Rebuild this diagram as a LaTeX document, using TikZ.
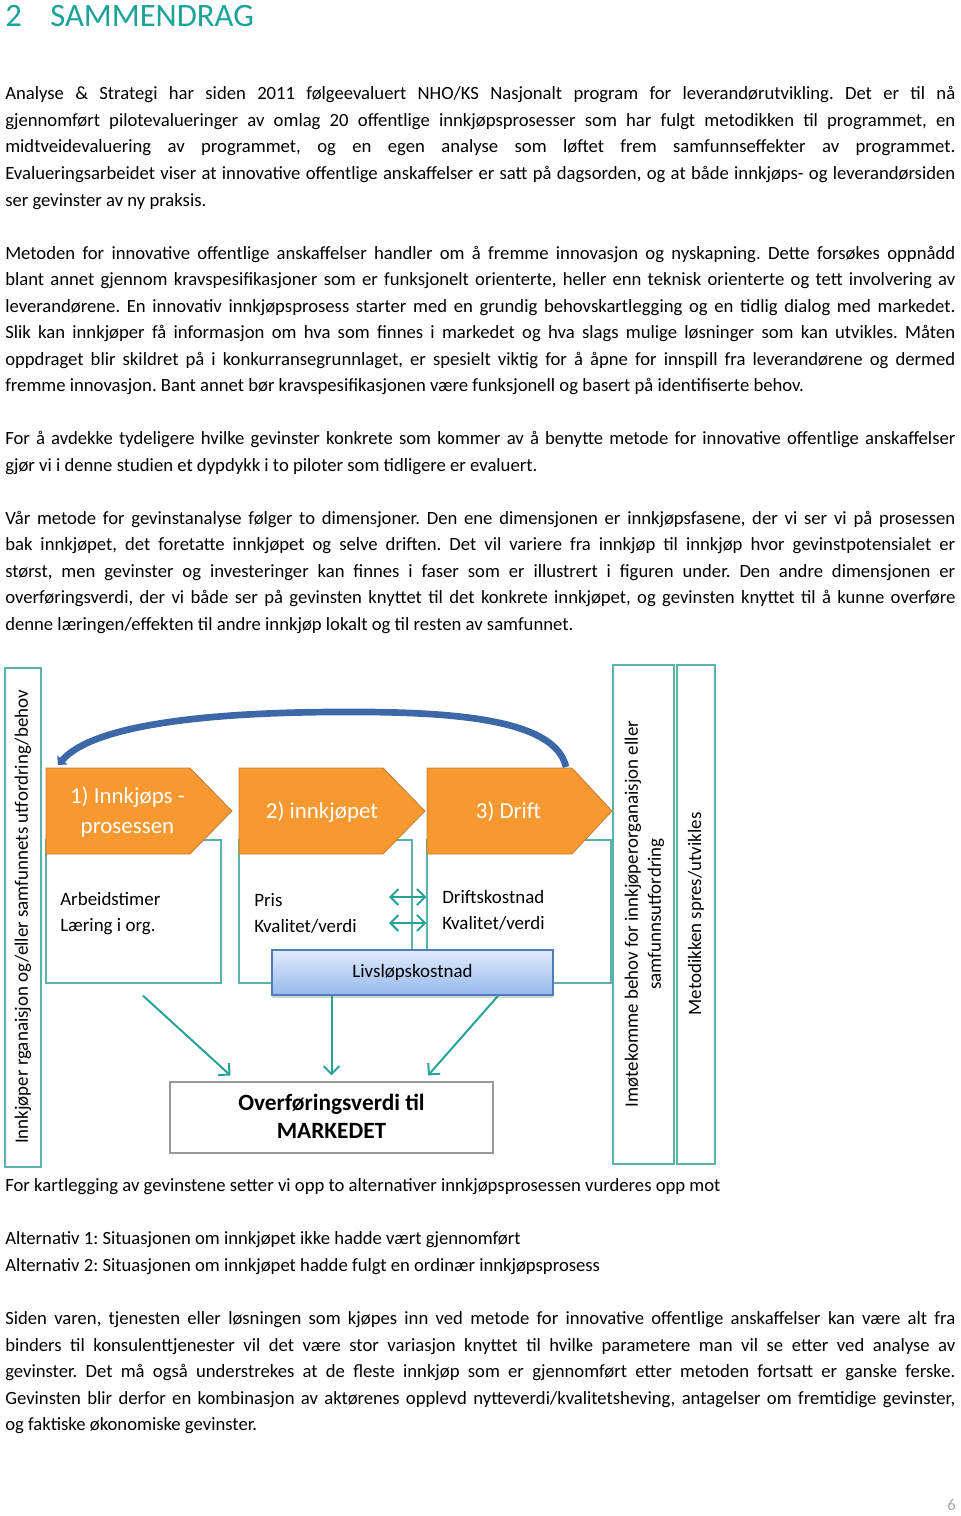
\documentclass[tikz,border=0pt]{standalone}
\usepackage{fontspec}
\setmainfont{Carlito}
\usetikzlibrary{arrows.meta,calc,fit,shadows}
\frenchspacing

\definecolor{headteal}{RGB}{26,163,152}
\definecolor{lineteal}{RGB}{38,163,150}
\definecolor{boxteal}{RGB}{90,178,168}
\definecolor{phaseorange}{RGB}{247,152,48}
\definecolor{phaseedge}{RGB}{196,124,52}
\definecolor{arcblue}{RGB}{60,104,168}
\definecolor{lcctop}{RGB}{224,235,252}
\definecolor{lccbot}{RGB}{150,185,236}
\definecolor{lccedge}{RGB}{79,124,186}

\newcommand{\jline}[1]{\makebox[712.5pt][s]{#1}}

\tikzset{
  txt/.style={anchor=base west, inner sep=0pt, font=\fontsize{14}{17}\selectfont},
  lbl/.style={anchor=base west, inner sep=0pt, font=\fontsize{14.2}{17}\selectfont},
  rot/.style={rotate=90, inner sep=0pt, align=center, font=\fontsize{14.2}{17.25}\selectfont},
  box/.style={draw=boxteal, line width=1pt, inner sep=0pt},
  phase/.style={fill=phaseorange, draw=phaseedge, line width=0.6pt},
  phasetxt/.style={text=white, align=center, inner sep=0pt, font=\fontsize{17.2}{22.5}\selectfont},
  flow/.style={draw=lineteal, line width=1.5pt, -{Straight Barb[length=6pt,width=12pt]}},
  dflow/.style={draw=lineteal, line width=1.5pt, {Straight Barb[length=6pt,width=12pt]}-{Straight Barb[length=6pt,width=12pt]}},
  bluearc/.style={draw=arcblue, line width=5pt, -{Triangle[length=5pt,width=10pt]}},
}

\begin{document}
\begin{tikzpicture}[x=0.75pt,y=-0.75pt]
  \useasboundingbox (0,0) rectangle (960,1516);

  \node[anchor=base west, inner sep=0pt, text=headteal, font=\fontsize{24.5}{28}\selectfont] (num) at (5,27) {2};
  \node[anchor=base west, inner sep=0pt, text=headteal, font=\fontsize{24.5}{28}\selectfont] (title) at (50,27) {SAMMENDRAG};

  \node[txt] (l1) at (5,100) {\jline{Analyse \& Strategi har siden 2011 følgeevaluert NHO/KS Nasjonalt program for leverandørutvikling. Det er til nå}};
  \node[txt] (l2) at (5,126.5) {\jline{gjennomført pilotevalueringer av omlag 20 offentlige innkjøpsprosesser som har fulgt metodikken til programmet, en}};
  \node[txt] (l3) at (5,153) {\jline{midtveidevaluering av programmet, og en egen analyse som løftet frem samfunnseffekter av programmet.}};
  \node[txt] (l4) at (5,179.5) {\jline{Evalueringsarbeidet viser at innovative offentlige anskaffelser er satt på dagsorden, og at både innkjøps- og leverandørsiden}};
  \node[txt] (l5) at (5,206) {ser gevinster av ny praksis.};

  \node[txt] (l6) at (5,259) {\jline{Metoden for innovative offentlige anskaffelser handler om å fremme innovasjon og nyskapning. Dette forsøkes oppnådd}};
  \node[txt] (l7) at (5,285.5) {\jline{blant annet gjennom kravspesifikasjoner som er funksjonelt orienterte, heller enn teknisk orienterte og tett involvering av}};
  \node[txt] (l8) at (5,312) {\jline{leverandørene. En innovativ innkjøpsprosess starter med en grundig behovskartlegging og en tidlig dialog med markedet.}};
  \node[txt] (l9) at (5,338.5) {\jline{Slik kan innkjøper få informasjon om hva som finnes i markedet og hva slags mulige løsninger som kan utvikles. Måten}};
  \node[txt] (l10) at (5,365) {\jline{oppdraget blir skildret på i konkurransegrunnlaget, er spesielt viktig for å åpne for innspill fra leverandørene og dermed}};
  \node[txt] (l11) at (5,391.5) {fremme innovasjon. Bant annet bør kravspesifikasjonen være funksjonell og basert på identifiserte behov.};

  \node[txt] (l12) at (5,444.5) {\jline{For å avdekke tydeligere hvilke gevinster konkrete som kommer av å benytte metode for innovative offentlige anskaffelser}};
  \node[txt] (l13) at (5,471) {gjør vi i denne studien et dypdykk i to piloter som tidligere er evaluert.};

  \node[txt] (l14) at (5,524) {\jline{Vår metode for gevinstanalyse følger to dimensjoner. Den ene dimensjonen er innkjøpsfasene, der vi ser vi på prosessen}};
  \node[txt] (l15) at (5,550.5) {\jline{bak innkjøpet, det foretatte innkjøpet og selve driften. Det vil variere fra innkjøp til innkjøp hvor gevinstpotensialet er}};
  \node[txt] (l16) at (5,577) {\jline{størst, men gevinster og investeringer kan finnes i faser som er illustrert i figuren under. Den andre dimensjonen er}};
  \node[txt] (l17) at (5,603.5) {\jline{overføringsverdi, der vi både ser på gevinsten knyttet til det konkrete innkjøpet, og gevinsten knyttet til å kunne overføre}};
  \node[txt] (l18) at (5,630) {denne læringen/effekten til andre innkjøp lokalt og til resten av samfunnet.};

  % figur
  \node[box, fit={(5,668) (41,1167)}] (need) {};
  \node[rot] (needtxt) at (23,917) {Innkjøper rganaisjon og/eller samfunnets utfordring/behov};
  \node[box, fit={(613,665) (674,1164)}] (meet) {};
  \node[rot] (meettxt) at (644.5,914) {Imøtekomme behov for innkjøperorganaisjon eller\\samfunnsutfordring};
  \node[box, fit={(677,665) (715,1164)}] (spread) {};
  \node[rot] (spreadtxt) at (696,914) {Metodikken spres/utvikles};

  \node[box, fit={(46,840) (221,983)}] (box1) {};
  \node[box, fit={(239,840) (412,983)}] (box2) {};
  \node[box, fit={(427,840) (611,983)}] (box3) {};

  \draw[phase] (46,768) -- (190,768) -- (232,811) -- (190,854) -- (46,854) -- cycle;
  \draw[phase] (239,768) -- (383,768) -- (425,811) -- (383,854) -- (239,854) -- cycle;
  \draw[phase] (427,768) -- (572,768) -- (612,811) -- (572,854) -- (427,854) -- cycle;
  \node[phasetxt] (ph1) at (127.5,812) {1) Innkjøps -\\prosessen};
  \node[phasetxt] (ph2) at (322,812) {2) innkjøpet};
  \node[phasetxt] (ph3) at (508.5,812) {3) Drift};

  \coordinate (arcstart) at (566,767);
  \coordinate (arctop) at (330,712);
  \coordinate (arcend) at (58,765);
  \draw[bluearc] (arcstart) .. controls (555,718) and (450,711) .. (arctop) .. controls (200,713) and (92,726) .. (arcend);

  \node[lbl] (hours) at (60,905) {Arbeidstimer};
  \node[lbl] (learn) at (60,931) {Læring i org.};
  \node[lbl] (price) at (254,906) {Pris};
  \node[lbl] (qual1) at (254,932) {Kvalitet/verdi};
  \node[lbl] (opcost) at (442,903) {Driftskostnad};
  \node[lbl] (qual2) at (442,929) {Kvalitet/verdi};

  \coordinate (d1) at (389,897);
  \coordinate (d2) at (389,923);
  \draw[dflow] (d1) -- (box3.west |- d1);
  \draw[dflow] (d2) -- (box3.west |- d2);

  \node[box, draw=lccedge, line width=1.3pt, top color=lcctop, bottom color=lccbot,
        drop shadow={shadow xshift=0pt, shadow yshift=-2.5pt, opacity=0.35},
        fit={(272,950) (553,995)}] (lcc) {};
  \node[inner sep=0pt, font=\fontsize{14.2}{17}\selectfont] (lcctxt) at (lcc.center) {Livsløpskostnad};

  \node[draw=gray!80, line width=0.8pt, inner sep=0pt, fit={(170,1082) (493,1153)}] (ovf) {};
  \node[inner sep=0pt, align=center, font=\bfseries\fontsize{17.5}{21}\selectfont] (ovftxt) at ($(ovf.center)+(0,-1)$) {Overføringsverdi til\\MARKEDET};

  \coordinate (s1) at ($(box1.south)+(9.5,12)$);
  \draw[flow] (s1) -- ($(ovf.north)+(-101,-6)$);
  \draw[flow] (lcc.south -| ovf.north) -- ($(ovf.north)+(0,-6)$);
  \draw[flow] ($(lcc.south)+(85.5,0)$) -- ($(ovf.north)+(96.5,-6)$);

  \node[txt] (l19) at (5,1191.5) {For kartlegging av gevinstene setter vi opp to alternativer innkjøpsprosessen vurderes opp mot};
  \node[txt] (l20) at (5,1244.5) {Alternativ 1: Situasjonen om innkjøpet ikke hadde vært gjennomført};
  \node[txt] (l21) at (5,1271) {Alternativ 2: Situasjonen om innkjøpet hadde fulgt en ordinær innkjøpsprosess};

  \node[txt] (l22) at (5,1324.5) {\jline{Siden varen, tjenesten eller løsningen som kjøpes inn ved metode for innovative offentlige anskaffelser kan være alt fra}};
  \node[txt] (l23) at (5,1351) {\jline{binders til konsulenttjenester vil det være stor variasjon knyttet til hvilke parametere man vil se etter ved analyse av}};
  \node[txt] (l24) at (5,1377.5) {\jline{gevinster. Det må også understrekes at de fleste innkjøp som er gjennomført etter metoden fortsatt er ganske ferske.}};
  \node[txt] (l25) at (5,1404) {\jline{Gevinsten blir derfor en kombinasjon av aktørenes opplevd nytteverdi/kvalitetsheving, antagelser om fremtidige gevinster,}};
  \node[txt] (l26) at (5,1430.5) {og faktiske økonomiske gevinster.};

  \node[anchor=base east, inner sep=0pt, text=gray!70, font=\fontsize{12.5}{14}\selectfont] (page) at (956,1510) {6};
\end{tikzpicture}
\end{document}
